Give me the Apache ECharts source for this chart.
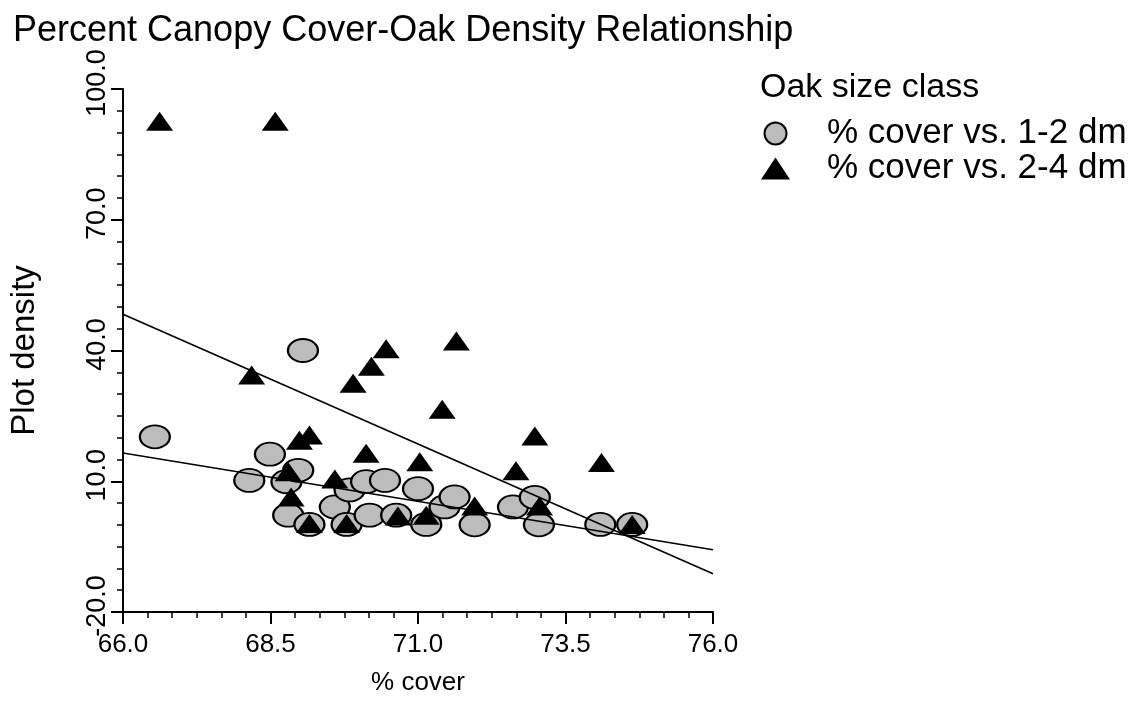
<!DOCTYPE html>
<html>
<head>
<meta charset="utf-8">
<script src="https://cdn.jsdelivr.net/npm/echarts@6/dist/echarts.min.js"></script>
<style>
  html, body { margin: 0; padding: 0; background: #ffffff; }
  #chart { width: 1134px; height: 702px; }
</style>
</head>
<body>
<div id="chart"></div>
<script>
// ---- data ----
const seriesNames = ['% cover vs. 1-2 dm', '% cover vs. 2-4 dm'];

const coverSmall = [66.54, 69.05, 68.49, 68.14, 68.77, 68.97, 68.80, 69.16, 69.59, 69.79, 69.84, 70.12, 70.44, 70.18, 70.63, 71.00, 71.14, 71.45, 71.62, 71.96, 72.61, 72.98, 73.05, 74.09, 74.63];
const densitySmall = [20.2, 40.0, 16.2, 10.2, 9.9, 12.5, 2.2, 0.1, 4.1, 0.1, 8.0, 9.9, 10.2, 2.2, 2.2, 8.3, 0.1, 4.1, 6.4, 0.0, 4.1, 6.3, 0.0, 0.1, 0.1];

const coverLarge = [66.62, 68.58, 68.18, 69.90, 70.21, 70.46, 71.65, 71.41, 68.99, 69.16, 70.12, 71.03, 72.98, 72.66, 74.11, 68.80, 69.59, 68.85, 71.96, 73.06, 69.16, 69.79, 70.66, 71.14, 74.63];
const densityLarge = [92.6, 92.6, 34.4, 32.5, 36.4, 40.4, 42.2, 26.5, 19.4, 20.6, 16.4, 14.5, 20.4, 12.4, 14.3, 12.2, 10.5, 6.4, 4.3, 4.3, 0.3, 0.3, 2.0, 2.2, 0.1];

// regression lines (end points)
const fitSmallX = [66, 76];
const fitSmallY = [16.5, -5.7];
const fitLargeX = [66, 76];
const fitLargeY = [48.3, -11.2];

// axes
const xMin = 66, xMax = 76, xStep = 2.5;
const yMin = -20, yMax = 100, yStep = 30;

// ---- build ----
const zip = (xs, ys) => xs.map((x, i) => [x, ys[i]]);
const FONT = '"Liberation Sans", Arial, sans-serif';

const chart = echarts.init(document.getElementById('chart'), null, { renderer: 'canvas' });
chart.setOption({
  animation: false,
  backgroundColor: '#ffffff',
  textStyle: { fontFamily: FONT, color: '#000' },
  title: [
    { text: 'Percent Canopy Cover-Oak Density Relationship', left: 8, top: 8,
      textStyle: { fontFamily: FONT, fontSize: 36, fontWeight: 'normal', color: '#000' } },
    { text: 'Oak size class', left: 755, top: 66,
      textStyle: { fontFamily: FONT, fontSize: 34, fontWeight: 'normal', color: '#000' } }
  ],
  legend: {
    left: 756, top: 111, orient: 'vertical',
    itemWidth: 29, itemHeight: 22, itemGap: 0,
    textStyle: { fontFamily: FONT, fontSize: 35, lineHeight: 30, color: '#000', padding: [0, 0, 0, 32] },
    data: [
      { name: seriesNames[0], icon: 'circle' },
      { name: seriesNames[1], icon: 'triangle' }
    ]
  },
  grid: { left: 123, top: 89, right: 421, bottom: 90, containLabel: false },
  xAxis: {
    type: 'value', min: xMin, max: xMax, interval: xStep,
    name: '% cover', nameLocation: 'middle', nameGap: 58,
    nameTextStyle: { fontFamily: FONT, fontSize: 26, color: '#000' },
    axisLine: { onZero: false, lineStyle: { color: '#000', width: 2 } },
    axisTick: { show: true, length: 12, lineStyle: { color: '#000', width: 2 } },
    minorTick: { show: true, splitNumber: 6, length: 6, lineStyle: { color: '#000', width: 1.5 } },
    axisLabel: { fontFamily: FONT, fontSize: 26, color: '#000', margin: 20, formatter: v => v.toFixed(1) },
    splitLine: { show: false }
  },
  yAxis: {
    type: 'value', min: yMin, max: yMax, interval: yStep,
    name: 'Plot density', nameLocation: 'middle', nameGap: 82,
    nameTextStyle: { fontFamily: FONT, fontSize: 33, color: '#000' },
    axisLine: { show: true, onZero: false, lineStyle: { color: '#000', width: 2 } },
    axisTick: { show: true, length: 12, lineStyle: { color: '#000', width: 2 } },
    minorTick: { show: true, splitNumber: 6, length: 6, lineStyle: { color: '#000', width: 1.5 } },
    axisLabel: { fontFamily: FONT, fontSize: 27, color: '#000', margin: 12, rotate: 90,
      padding: [0, 0, 0, 12], formatter: v => v.toFixed(1) },
    splitLine: { show: false }
  },
  series: [
    {
      name: seriesNames[0], type: 'scatter', symbol: 'circle', symbolSize: [30, 23],
      itemStyle: { color: '#bcbcbc', borderColor: '#000', borderWidth: 2, opacity: 1 },
      data: zip(coverSmall, densitySmall), z: 2
    },
    {
      name: seriesNames[1], type: 'scatter', symbol: 'triangle', symbolSize: [27, 19],
      itemStyle: { color: '#000', opacity: 1 },
      data: zip(coverLarge, densityLarge), z: 3
    },
    {
      name: 'fit 1-2 dm', type: 'line', symbol: 'none', silent: true, z: 4,
      lineStyle: { color: '#000', width: 1.6 },
      data: zip(fitSmallX, fitSmallY)
    },
    {
      name: 'fit 2-4 dm', type: 'line', symbol: 'none', silent: true, z: 4,
      lineStyle: { color: '#000', width: 1.6 },
      data: zip(fitLargeX, fitLargeY)
    }
  ]
});
</script>
</body>
</html>
